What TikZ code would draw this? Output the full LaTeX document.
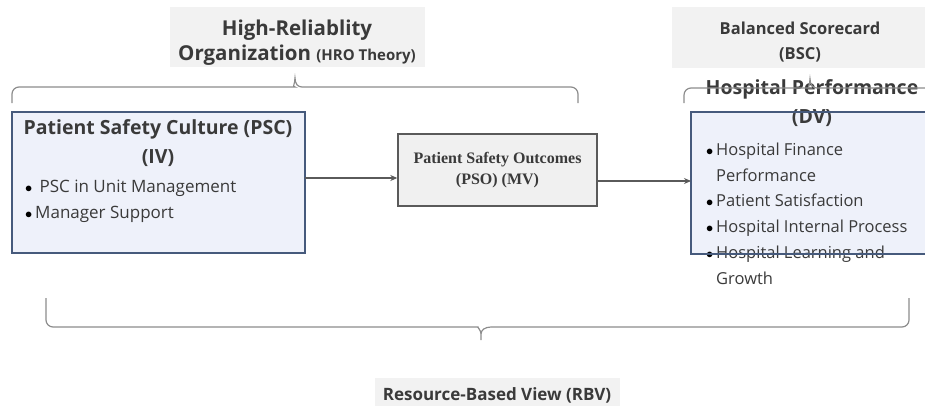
\documentclass[tikz,border=0pt]{standalone}
\usepackage{fontspec}
\setmainfont{Open Sans}
\newfontfamily\serifb{Liberation Serif}
\usetikzlibrary{arrows.meta}
\definecolor{txt}{HTML}{3A3A3A}
\definecolor{labelfill}{HTML}{F2F2F2}
\definecolor{bluefill}{HTML}{EEF1FA}
\definecolor{blueline}{HTML}{465A7C}
\definecolor{bracecol}{HTML}{8C8C8C}
\definecolor{psofill}{HTML}{F0F0F0}
\definecolor{psoline}{HTML}{5A5A5A}
\tikzset{
  labelbox/.style={fill=labelfill, draw=none, inner sep=0pt},
  labeltext/.style={text=txt, align=center, inner sep=0pt},
  varbox/.style={fill=bluefill, draw=blueline, line width=1.8pt},
  varborder/.style={draw=blueline, line width=1.8pt},
  titletext/.style={text=txt, font=\fontsize{19.5}{29}\selectfont\bfseries, align=center, inner sep=0pt},
  bullettext/.style={text=txt, align=left, anchor=north west, inner sep=0pt},
  brace/.style={draw=bracecol, line width=1.2pt},
  link/.style={draw=psoline, line width=1.1pt, -{Stealth[length=7pt,width=6pt]}},
  psobox/.style={fill=psofill, draw=psoline, line width=1.4pt, text=txt, align=center,
    font=\serifb\fontsize{16}{21}\selectfont\bfseries}
}
\newcommand{\bul}{\makebox[10pt][l]{\color{black}\fontsize{15}{15}\selectfont$\bullet$}}
\begin{document}
\begin{tikzpicture}[x=1pt,y=-1pt]
\useasboundingbox (0,0) rectangle (925,405);

% theory labels
\node[labelbox, minimum width=255pt, minimum height=60pt] (hro) at (297,37) {};
\node[labeltext, font=\fontsize{20.5}{25}\selectfont\bfseries] (hrot) at (297,43)
  {High-Reliablity\\Organization {\fontsize{15}{25}\selectfont(HRO Theory)}};
\node[labelbox, minimum width=256pt, minimum height=61pt] (bsc) at (800,37) {};
\node[labeltext, font=\fontsize{16.5}{25}\selectfont\bfseries] (bsct) at (800,42.5)
  {Balanced Scorecard\\(BSC)};
\node[labelbox, minimum width=245pt, minimum height=30pt] (rbv) at (497,393) {};
\node[labeltext, font=\fontsize{17}{20}\selectfont\bfseries] (rbvt) at (497,395)
  {Resource-Based View (RBV)};

% PSC box
\path[varbox] (12,112) rectangle (305,253);
\coordinate (pscE) at (305,178);
\node[titletext] (psct) at (158,143) {Patient Safety Culture (PSC)\\(IV)};
\node[bullettext, font=\fontsize{17}{26}\selectfont] (pscl) at (25,179.5)
  {\bul\ PSC in Unit Management\\\bul Manager Support};

% PSO box
\node[psobox, minimum width=199pt, minimum height=72pt] (pso) at (497.5,170)
  {Patient Safety Outcomes\\(PSO) (MV)};

% DV box
\path[fill=bluefill] (691,112) rectangle (930,254);
\node[titletext] (dvt) at (812,103) {Hospital Performance\\(DV)};
\node[bullettext, font=\fontsize{16.5}{25.8}\selectfont] (dvl) at (706,142.5)
  {\bul Hospital Finance\\\hspace{10pt}Performance\\\bul Patient Satisfaction\\\bul Hospital Internal Process\\\bul Hospital Learning and\\\hspace{10pt}Growth};
\path[varborder] (691,112) rectangle (930,254);
\coordinate (dvW) at (691,181);

% connectors
\draw[link] (pscE) -- (pso.west |- pscE);
\draw[link] (pso.east |- dvW) -- (dvW);

% braces
\draw[brace] (12,103) [rounded corners=7pt] -- (12,87) -- (288,87) [sharp corners]
  .. controls (292,87) and (295,84) .. (295,78)
  .. controls (295,84) and (298,87) .. (302,87)
  [rounded corners=7pt] -- (578,87) -- (578,103);
\draw[brace] (684,103) [rounded corners=7pt] -- (684,88) -- (803,88) [sharp corners]
  .. controls (807,88) and (810,85) .. (810,79)
  .. controls (810,85) and (813,88) .. (817,88)
  -- (935,88);
\draw[brace] (46,298) [rounded corners=7pt] -- (46,327) -- (471,327) [sharp corners]
  .. controls (477,327) and (481,330) .. (481,334) -- (481,340)
  (481,334) .. controls (481,330) and (485,327) .. (491,327)
  [rounded corners=7pt] -- (909,327) -- (909,298);
\end{tikzpicture}
\end{document}
